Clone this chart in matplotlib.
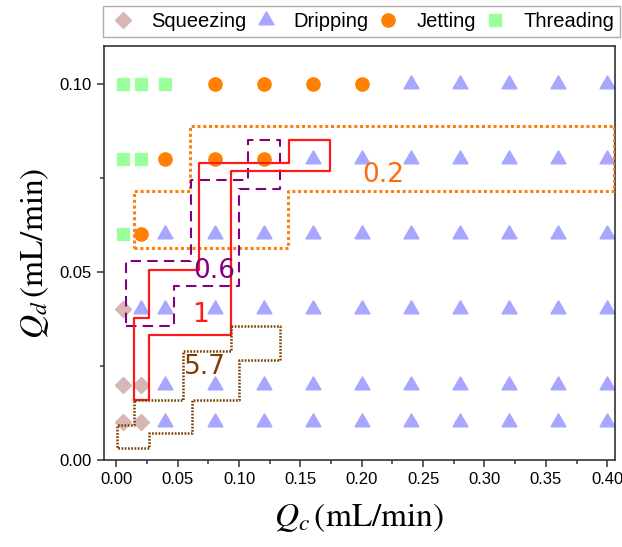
import numpy as np
import matplotlib
matplotlib.use("Agg")
import matplotlib.pyplot as plt

plt.rcParams['font.family'] = ['Liberation Sans', 'DejaVu Sans']
plt.rcParams['mathtext.fontset'] = 'stix'

# flow-regime map, Qc (x) vs Qd (y), mL/min
squeeze_x = [0.005, 0.005, 0.02, 0.005, 0.02]
squeeze_y = [0.04, 0.02, 0.02, 0.01, 0.01]

thread_x = [0.005, 0.02, 0.04, 0.005, 0.02, 0.005]
thread_y = [0.10, 0.10, 0.10, 0.08, 0.08, 0.06]

jet_x = [0.08, 0.12, 0.16, 0.20, 0.04, 0.08, 0.12, 0.02]
jet_y = [0.10, 0.10, 0.10, 0.10, 0.08, 0.08, 0.08, 0.06]

drip_x = [0.24, 0.28, 0.32, 0.36, 0.40,
          0.16, 0.20, 0.24, 0.28, 0.32, 0.36, 0.40,
          0.04, 0.08, 0.12, 0.16, 0.20, 0.24, 0.28, 0.32, 0.36, 0.40,
          0.02, 0.04, 0.08, 0.12, 0.16, 0.20, 0.24, 0.28, 0.32, 0.36, 0.40,
          0.04, 0.08, 0.12, 0.16, 0.20, 0.24, 0.28, 0.32, 0.36, 0.40,
          0.04, 0.08, 0.12, 0.16, 0.20, 0.24, 0.28, 0.32, 0.36, 0.40]
drip_y = ([0.10] * 5 + [0.08] * 7 + [0.06] * 10 + [0.04] * 11
          + [0.02] * 10 + [0.01] * 10)

# stepped contour outlines (label value -> closed polygon)
c02_x = [0.014, 0.140, 0.140, 0.4057, 0.4057, 0.0603, 0.0603, 0.014, 0.014]
c02_y = [0.0562, 0.0562, 0.0715, 0.0715, 0.0888, 0.0888, 0.0715, 0.0715, 0.0562]

c06_x = [0.008, 0.047, 0.047, 0.100, 0.100, 0.1336, 0.1336, 0.107, 0.107,
         0.0605, 0.0605, 0.008, 0.008]
c06_y = [0.0356, 0.0356, 0.0462, 0.0462, 0.0721, 0.0721, 0.0851, 0.0851,
         0.0745, 0.0745, 0.0530, 0.0530, 0.0356]

c1_x = [0.0141, 0.0269, 0.0269, 0.0934, 0.0934, 0.1738, 0.1738, 0.1404, 0.1404,
        0.0673, 0.0673, 0.0269, 0.0269, 0.0141, 0.0141]
c1_y = [0.0159, 0.0159, 0.0332, 0.0332, 0.0767, 0.0767, 0.0851, 0.0851, 0.0789,
        0.0789, 0.0506, 0.0506, 0.0376, 0.0376, 0.0159]

c57_x = [0.0934, 0.1336, 0.1336, 0.1002, 0.1002, 0.0614, 0.0614, 0.0269, 0.0269,
         0.0005, 0.0005, 0.0141, 0.0141, 0.054, 0.054, 0.0934, 0.0934]
c57_y = [0.0356, 0.0356, 0.0265, 0.0265, 0.0159, 0.0159, 0.0071, 0.0071, 0.0031,
         0.0031, 0.0093, 0.0093, 0.0159, 0.0159, 0.029, 0.029, 0.0356]

fig = plt.figure(figsize=(6.22, 5.47), dpi=100)
ax = fig.add_axes([0.167, 0.159, 0.822, 0.757])

ax.plot(squeeze_x, squeeze_y, ls='none', marker='D', ms=8, color='#D6B6B6', label='Squeezing')
ax.plot(drip_x, drip_y, ls='none', marker=(3, 0, 0), ms=12.5, color='#A7A7FF', label='Dripping')
ax.plot(jet_x, jet_y, ls='none', marker='o', ms=9.5, color='#FF7F00', label='Jetting')
ax.plot(thread_x, thread_y, ls='none', marker='s', ms=8.4, color='#9BFF9B', label='Threading')

ax.plot(c02_x, c02_y, color='#FF7F0E', lw=2.2, ls=(0, (1, 0.9)), zorder=3)
ax.plot(c06_x, c06_y, color='#800080', lw=1.5, ls=(0, (5, 3)), zorder=3)
ax.plot(c1_x, c1_y, color='#FF1A1A', lw=1.6, zorder=3)
ax.plot(c57_x, c57_y, color='#7F3F00', lw=1.8, ls=(0, (0.7, 0.6)), zorder=3)

lab = dict(fontsize=19, family='DejaVu Sans', ha='center', va='center')
ax.text(0.2175, 0.0757, '0.2', color='#FF6A10', **lab)
ax.text(0.0798, 0.0502, '0.6', color='#800080', **lab)
ax.text(0.0686, 0.0385, '1', color='#FF1A1A', **lab)
ax.text(0.0725, 0.0246, '5.7', color='#7F3F00', **lab)

ax.set_xlim(-0.0102, 0.4065)
ax.set_ylim(0.0, 0.1100)
ax.set_xticks([0.00, 0.05, 0.10, 0.15, 0.20, 0.25, 0.30, 0.35, 0.40])
ax.set_yticks([0.00, 0.05, 0.10])
ax.set_xticks(np.arange(0.025, 0.40, 0.05), minor=True)
ax.set_yticks([0.025, 0.075], minor=True)
ax.xaxis.set_major_formatter(matplotlib.ticker.FormatStrFormatter('%.2f'))
ax.yaxis.set_major_formatter(matplotlib.ticker.FormatStrFormatter('%.2f'))
ax.tick_params(which='both', direction='out', labelsize=12, color='#333333', width=1.1)
ax.tick_params(which='major', length=5)
ax.tick_params(which='minor', length=3)
for s in ax.spines.values():
    s.set_color('#333333')
    s.set_linewidth(1.2)

ax.set_xlabel(r'$Q_c\,(\mathrm{mL/min})$', fontsize=24, labelpad=10)
ax.set_ylabel(r'$Q_d\,(\mathrm{mL/min})$', fontsize=24, labelpad=6)

leg = ax.legend(loc='lower left', bbox_to_anchor=(-0.002, 1.022), ncol=4, frameon=True,
                fancybox=False, fontsize=14.5, handletextpad=0.7, columnspacing=0.25,
                borderaxespad=0, handlelength=1.4, borderpad=0.3)
leg.get_frame().set_edgecolor('#999999')
leg.get_frame().set_linewidth(1.0)

fig.savefig('out.png', dpi=100)
